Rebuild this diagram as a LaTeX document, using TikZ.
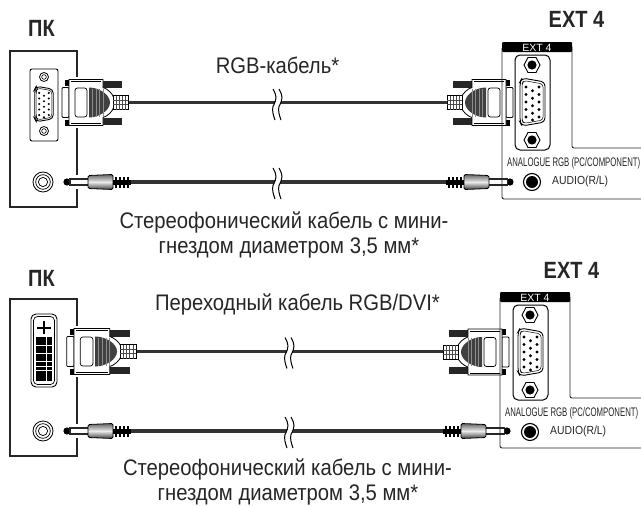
\documentclass[tikz,border=0pt]{standalone}
\usepackage{fontspec}
\usepackage{graphicx}
\setmainfont{Liberation Sans}
\newcommand{\nar}[1]{\scalebox{.9}[1]{#1}}
\tikzset{
 cable/.style={line width=3.6pt,draw=black!80},
 thin line/.style={line width=1.2pt,draw=black!85},
 lbl/.style={font=\fontsize{22.5}{25}\selectfont,anchor=base,inner sep=0,text=black!85},
 head/.style={font=\fontsize{23.5}{25}\selectfont\bfseries,inner sep=0,text=black!85},
 panel text/.style={font=\fontsize{11}{12}\selectfont,inner sep=0,text=black!85},
 metal/.style={draw=black,line width=.8pt,top color=black!60,bottom color=black!75,middle color=black!8},
}
\newcommand{\vgaface}{%
 \draw[line width=.9pt,rounded corners=4pt,fill=white] (-10.5,-24) -- (12.5,-20) -- (12.5,20) -- (-10.5,24) -- (-12.5,20) -- (-12.5,-20) -- cycle;
 \draw[line width=.5pt,rounded corners=3pt] (-9,-21.5) -- (10.5,-18) -- (10.5,18) -- (-9,21.5) -- (-10.5,18) -- (-10.5,-18) -- cycle;
 \foreach \y in {-15,-7.5,0,7.5,15}{\fill (-6.5,\y) circle (1.6); \fill (6.5,\y) circle (1.6);}
 \foreach \y in {-11.2,-3.7,3.7,11.2,18}{\fill (0,\y) circle (1.6);}
}
\newcommand{\plug}{%
 \fill[black!85] (34,-22) rectangle (53,-15);
 \fill[black!85] (34,22) rectangle (53,15);
 \fill[black] (-4,-23) rectangle (0,-17);
 \fill[black] (-4,23) rectangle (0,17);
 \draw[line width=.8pt,fill=white,rounded corners=1pt] (-7,-15) -- (0,-15) -- (0,15) -- (-7,15) -- cycle;
 \draw[white,line width=2pt] (-2,-24.5) -- (36,-24.5) (-2,24.5) -- (36,24.5);
 \draw[line width=.8pt,fill=white] (0,-23) -- (34,-23) -- (34,-15) .. controls (38,-14) and (44,-9) .. (45,-4) -- (45,4) .. controls (44,9) and (38,14) .. (34,15) -- (34,23) -- (0,23) -- cycle;
 \draw[line width=.4pt] (1.6,-21) -- (32,-21) (1.6,21) -- (32,21);
 \draw[line width=.7pt,rounded corners=2.5pt] (6,-14.5) rectangle (18,14.5);
 \fill[black!75] (20,-15) .. controls (30,-15) and (41,-8) .. (41,0) .. controls (41,8) and (30,15) .. (20,15) -- cycle;
 \foreach \x in {23.5,27,30.5,34}{\draw[black!45,line width=.5pt] (\x,-14) -- (\x,14);}
 \draw[line width=.8pt,fill=white] (44,-7) rectangle (59,7);
 \foreach \x in {47,50,53,56}{\draw[line width=.6pt,black!70] (\x,-7) -- (\x,7);}
 \draw[line width=.6pt,black!70] (44,-2) -- (59,-2) (44,2) -- (59,2);
}
\newcommand{\jack}{%
 \fill[white] (4,-7) rectangle (20,7);
 \fill[black] (0,0) circle (3.6);
 \fill[black!85] (2,-3.6) rectangle (22,3.6);
 \fill[white] (3.5,-1.6) rectangle (22,1.6);
 \draw[metal,rounded corners=1.5pt] (21,-6.5) -- (46,-7.5) -- (46,7.5) -- (21,6.5) -- cycle;
 \fill (46,-2.5) rectangle (64,2.5);
 \foreach \x in {49,53,57,61}{\fill (\x-1,-5.5) rectangle (\x+1,5.5);}
}
\newcommand{\breakmark}{%
 \fill[white] (-5,-15.5) .. controls (-1,-8) and (-1,-6) .. (-5,2) .. controls (-6,6) and (-5,10) .. (-3,15.5) -- (3,15.5) .. controls (1,10) and (0,6) .. (1,2) .. controls (5,-6) and (5,-8) .. (1,-15.5) -- cycle;
 \draw[line width=1pt] (-5,-15.5) .. controls (-1,-8) and (-1,-6) .. (-5,2) .. controls (-6,6) and (-5,10) .. (-3,15.5);
 \draw[line width=1pt] (1,-15.5) .. controls (5,-8) and (5,-6) .. (1,2) .. controls (0,6) and (1,10) .. (3,15.5);
}
\newcommand{\extpanel}[1]{%
 \draw[thin line,line width=.9pt,rounded corners=2pt] (0,6) -- (0,#1) -- (141,#1);
 \draw[thin line,line width=.9pt,rounded corners=2pt] (70,5) -- (70,106) -- (141,106);
 \fill[black,rounded corners=1pt] (0,0) rectangle (70,10);
 \node[panel text,text=white,font=\fontsize{10.5}{11}\selectfont] (tab) at (35,5.5) {EXT 4};
 \draw[line width=1pt,rounded corners=5pt,fill=white] (13,13) rectangle (48,108);
 \begin{scope}[shift={(30.5,60)}]\vgaface\end{scope}
 \foreach \y in {23,98}{
  \begin{scope}[shift={(30,\y)}]
  \draw[line width=.9pt,fill=white] (-8,0) -- (-4,-7.5) -- (4,-7.5) -- (8,0) -- (4,7.5) -- (-4,7.5) -- cycle;
  \fill (0,0) circle (4.6);
  \end{scope}}
 \draw[line width=1.1pt,fill=white] (30,140) circle (8.5);
 \fill (30,140) circle (6);
 \node[panel text,anchor=west] (audio) at (50,139.5) {\resizebox{56pt}{8.5pt}{AUDIO(R/L)}};
 \node[panel text,anchor=west] (ana) at (5,121) {\resizebox{133pt}{9pt}{ANALOGUE RGB (PC/COMPONENT)}};
}
\begin{document}
\begin{tikzpicture}[x=1pt,y=-1pt]
\useasboundingbox (0,0) rectangle (641,506);
\fill[white] (0,0) rectangle (641,506);
% ---------- top ----------
\node[head] (pc1) at (41.5,28) {\scalebox{.85}[1]{ПК}};
\node[head] (ext1) at (576.5,19) {\scalebox{.85}[1]{EXT 4}};
\node[lbl] (rgb) at (277.5,73) {\nar{RGB-кабель*}};
\draw[thin line] (10,51) rectangle (77,207);
\draw[line width=.9pt,fill=white,rounded corners=2pt] (30,69) rectangle (58,141);
\begin{scope}[shift={(44,104)},scale=.74]\vgaface\end{scope}
\foreach \y in {77,131}{\draw[line width=.8pt,fill=white] (44,\y) circle (4.5); \draw[line width=.6pt] (44,\y) circle (2.3);}
\draw[line width=.8pt,fill=white] (43,182) circle (10);
\draw[line width=.7pt] (43,182) circle (7.3);
\draw[line width=.7pt] (43,182) circle (4.6);
\coordinate (c1a) at (128,102.5);
\coordinate (c1b) at (447,102.5);
\draw[cable] (c1a) -- (c1b);
\coordinate (c2a) at (128,182);
\coordinate (c2b) at (447,182);
\draw[cable] (c2a) -- (c2b);
\begin{scope}[shift={(69,102.5)}]\plug\end{scope}
\begin{scope}[shift={(506,102.5)},xscale=-1]\plug\end{scope}
\begin{scope}[shift={(67,182)}]\jack\end{scope}
\begin{scope}[shift={(510,182)},xscale=-1]\jack\end{scope}
\begin{scope}[shift={(278,104.5)}]\breakmark\end{scope}
\begin{scope}[shift={(278,183.5)}]\breakmark\end{scope}
\begin{scope}[shift={(502,42)}]\extpanel{157}\end{scope}
\node[lbl] (st1a) at (284,228) {\nar{Стереофонический кабель с мини-}};
\node[lbl] (st1b) at (289,253) {\nar{гнездом диаметром 3,5 мм*}};
% ---------- bottom ----------
\node[head] (pc2) at (41.5,278) {\scalebox{.85}[1]{ПК}};
\node[head] (ext2) at (571.5,270) {\scalebox{.85}[1]{EXT 4}};
\node[lbl] (dvi) at (297.5,310) {\nar{Переходный кабель RGB/DVI*}};
\draw[thin line] (10,299) rectangle (77,456);
\draw[line width=.9pt,fill=white,rounded corners=5pt] (31,314) rectangle (57,387);
\draw[line width=.7pt,rounded corners=4pt] (33.5,316.5) rectangle (54.5,384.5);
\draw[line width=1.1pt] (37,328) -- (51,328) (44,321) -- (44,334);
\fill (36,337) rectangle (52,381);
\foreach \y in {345,353,361,366,370}{\draw[white,line width=.7pt] (36,\y) -- (52,\y);}
\draw[white,line width=.7pt] (46,337) -- (46,381);
\draw[line width=.8pt,fill=white] (43,431) circle (10);
\draw[line width=.7pt] (43,431) circle (7.3);
\draw[line width=.7pt] (43,431) circle (4.6);
\coordinate (c3a) at (136,351.5);
\coordinate (c3b) at (445,351.5);
\draw[cable] (c3a) -- (c3b);
\coordinate (c4a) at (128,431);
\coordinate (c4b) at (445,431);
\draw[cable] (c4a) -- (c4b);
\begin{scope}[shift={(74,351.5)},xscale=1.05]\plug\end{scope}
\begin{scope}[shift={(502,352)},xscale=-1]\plug\end{scope}
\begin{scope}[shift={(67,431)}]\jack\end{scope}
\begin{scope}[shift={(507,431)},xscale=-1]\jack\end{scope}
\begin{scope}[shift={(290,353)}]\breakmark\end{scope}
\begin{scope}[shift={(290,432.5)}]\breakmark\end{scope}
\begin{scope}[shift={(500,292)}]\extpanel{156}\end{scope}
\node[lbl] (st2a) at (287.5,475) {\nar{Стереофонический кабель с мини-}};
\node[lbl] (st2b) at (288,500) {\nar{гнездом диаметром 3,5 мм*}};
\end{tikzpicture}
\end{document}
